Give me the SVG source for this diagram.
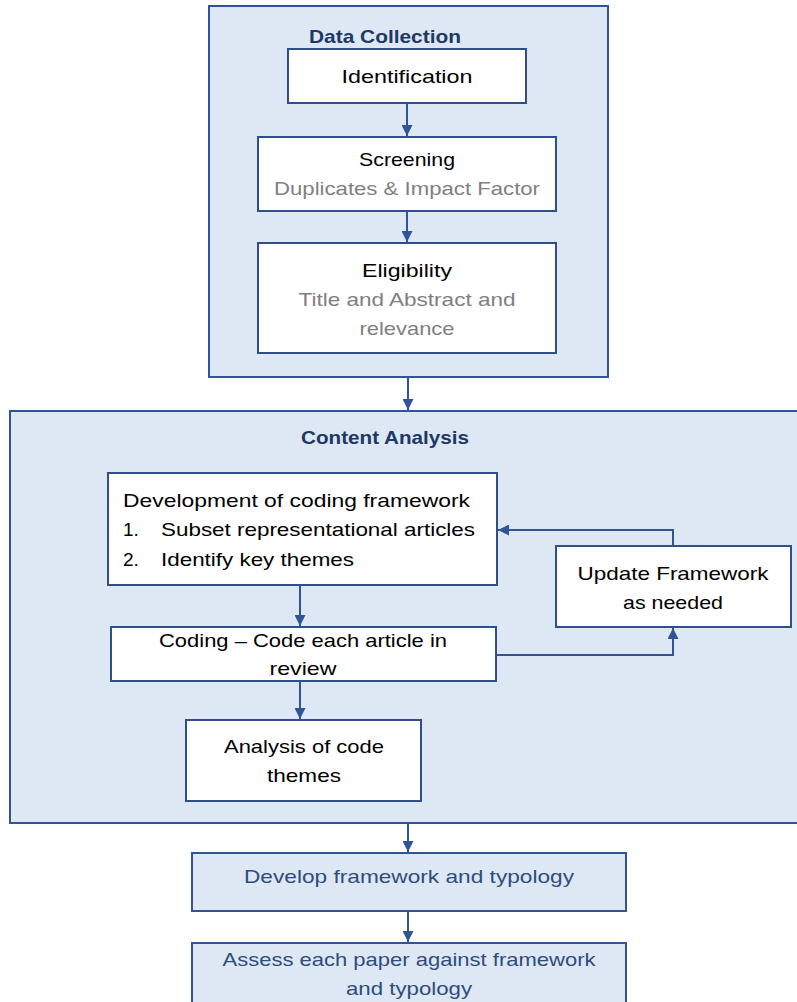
<svg xmlns="http://www.w3.org/2000/svg" width="797" height="1002" viewBox="0 0 797 1002">
  <style>
    .panel { fill: #dde8f4; stroke: #2f5597; stroke-width: 2; }
    .box { fill: #ffffff; stroke: #2f4f8a; stroke-width: 2; }
    .bluebox { fill: #dde8f4; stroke: #2f5597; stroke-width: 2; }
    .wire { fill: none; stroke: #2f5597; stroke-width: 2; }
    text { font-family: "Liberation Sans", Arial, sans-serif; font-size: 19px; }
    .title { font-weight: bold; fill: #203864; font-size: 19px; }
    .main { fill: #000000; }
    .sub { fill: #808080; }
    .blue { fill: #2f4c7e; }
    .mid { text-anchor: middle; }
  </style>
  <defs>
    <marker id="arrow" viewBox="0 0 10 10" refX="10" refY="5" markerWidth="11" markerHeight="11" orient="auto" markerUnits="userSpaceOnUse">
      <path d="M0,0 L10,5 L0,10 z" fill="#2f5597"/>
    </marker>
  </defs>

  <!-- Data Collection panel -->
  <g id="data-collection">
    <rect class="panel" x="209" y="6" width="399" height="371"/>
    <text class="title mid" x="385" y="43" textLength="152" lengthAdjust="spacingAndGlyphs">Data Collection</text>
  </g>
  <g id="identification">
    <rect class="box" x="288" y="49" width="238" height="54"/>
    <text class="main mid" x="407" y="83" textLength="131" lengthAdjust="spacingAndGlyphs">Identification</text>
  </g>
  <g id="screening">
    <rect class="box" x="258" y="137" width="298" height="74"/>
    <text class="main mid" x="407" y="166" textLength="96" lengthAdjust="spacingAndGlyphs">Screening</text>
    <text class="sub mid" x="407" y="195" textLength="266" lengthAdjust="spacingAndGlyphs">Duplicates &amp; Impact Factor</text>
  </g>
  <g id="eligibility">
    <rect class="box" x="258" y="243" width="298" height="110"/>
    <text class="main mid" x="407" y="277" textLength="90" lengthAdjust="spacingAndGlyphs">Eligibility</text>
    <text class="sub mid" x="407" y="306" textLength="217" lengthAdjust="spacingAndGlyphs">Title and Abstract and</text>
    <text class="sub mid" x="407" y="335" textLength="95" lengthAdjust="spacingAndGlyphs">relevance</text>
  </g>

  <!-- Content Analysis panel -->
  <g id="content-analysis">
    <rect class="panel" x="10" y="411" width="800" height="412"/>
    <text class="title mid" x="385" y="444" textLength="168" lengthAdjust="spacingAndGlyphs">Content Analysis</text>
  </g>
  <g id="development">
    <rect class="box" x="108" y="473" width="389" height="112"/>
    <text class="main" x="123" y="507" textLength="347" lengthAdjust="spacingAndGlyphs">Development of coding framework</text>
    <text class="main" x="123" y="536">1.</text>
    <text class="main" x="161" y="536" textLength="314" lengthAdjust="spacingAndGlyphs">Subset representational articles</text>
    <text class="main" x="123" y="566">2.</text>
    <text class="main" x="161" y="566" textLength="193" lengthAdjust="spacingAndGlyphs">Identify key themes</text>
  </g>
  <g id="update-framework">
    <rect class="box" x="556" y="546" width="235" height="81"/>
    <text class="main mid" x="673" y="580" textLength="191" lengthAdjust="spacingAndGlyphs">Update Framework</text>
    <text class="main mid" x="673" y="609" textLength="100" lengthAdjust="spacingAndGlyphs">as needed</text>
  </g>
  <g id="coding">
    <rect class="box" x="111" y="627" width="385" height="54"/>
    <text class="main mid" x="303" y="647" textLength="288" lengthAdjust="spacingAndGlyphs">Coding – Code each article in</text>
    <text class="main mid" x="303" y="675" textLength="67" lengthAdjust="spacingAndGlyphs">review</text>
  </g>
  <g id="analysis">
    <rect class="box" x="186" y="720" width="235" height="81"/>
    <text class="main mid" x="304" y="753" textLength="160" lengthAdjust="spacingAndGlyphs">Analysis of code</text>
    <text class="main mid" x="304" y="782" textLength="74" lengthAdjust="spacingAndGlyphs">themes</text>
  </g>

  <!-- Outcome steps -->
  <g id="develop-framework">
    <rect class="bluebox" x="192" y="853" width="434" height="58"/>
    <text class="blue mid" x="409" y="883" textLength="330" lengthAdjust="spacingAndGlyphs">Develop framework and typology</text>
  </g>
  <g id="assess">
    <rect class="bluebox" x="192" y="943" width="434" height="70"/>
    <text class="blue mid" x="409" y="966" textLength="373" lengthAdjust="spacingAndGlyphs">Assess each paper against framework</text>
    <text class="blue mid" x="409" y="995" textLength="126" lengthAdjust="spacingAndGlyphs">and typology</text>
  </g>

  <!-- Connectors -->
  <g id="connectors">
    <line class="wire" x1="407" y1="103" x2="407" y2="136" marker-end="url(#arrow)"/>
    <line class="wire" x1="407" y1="211" x2="407" y2="242" marker-end="url(#arrow)"/>
    <line class="wire" x1="408" y1="377" x2="408" y2="410" marker-end="url(#arrow)"/>
    <line class="wire" x1="300" y1="585" x2="300" y2="626" marker-end="url(#arrow)"/>
    <line class="wire" x1="300" y1="681" x2="300" y2="719" marker-end="url(#arrow)"/>
    <polyline class="wire" points="673,546 673,530 498,530" marker-end="url(#arrow)"/>
    <polyline class="wire" points="496,655 673,655 673,628" marker-end="url(#arrow)"/>
    <line class="wire" x1="408" y1="823" x2="408" y2="852" marker-end="url(#arrow)"/>
    <line class="wire" x1="408" y1="911" x2="408" y2="942" marker-end="url(#arrow)"/>
  </g>
</svg>
